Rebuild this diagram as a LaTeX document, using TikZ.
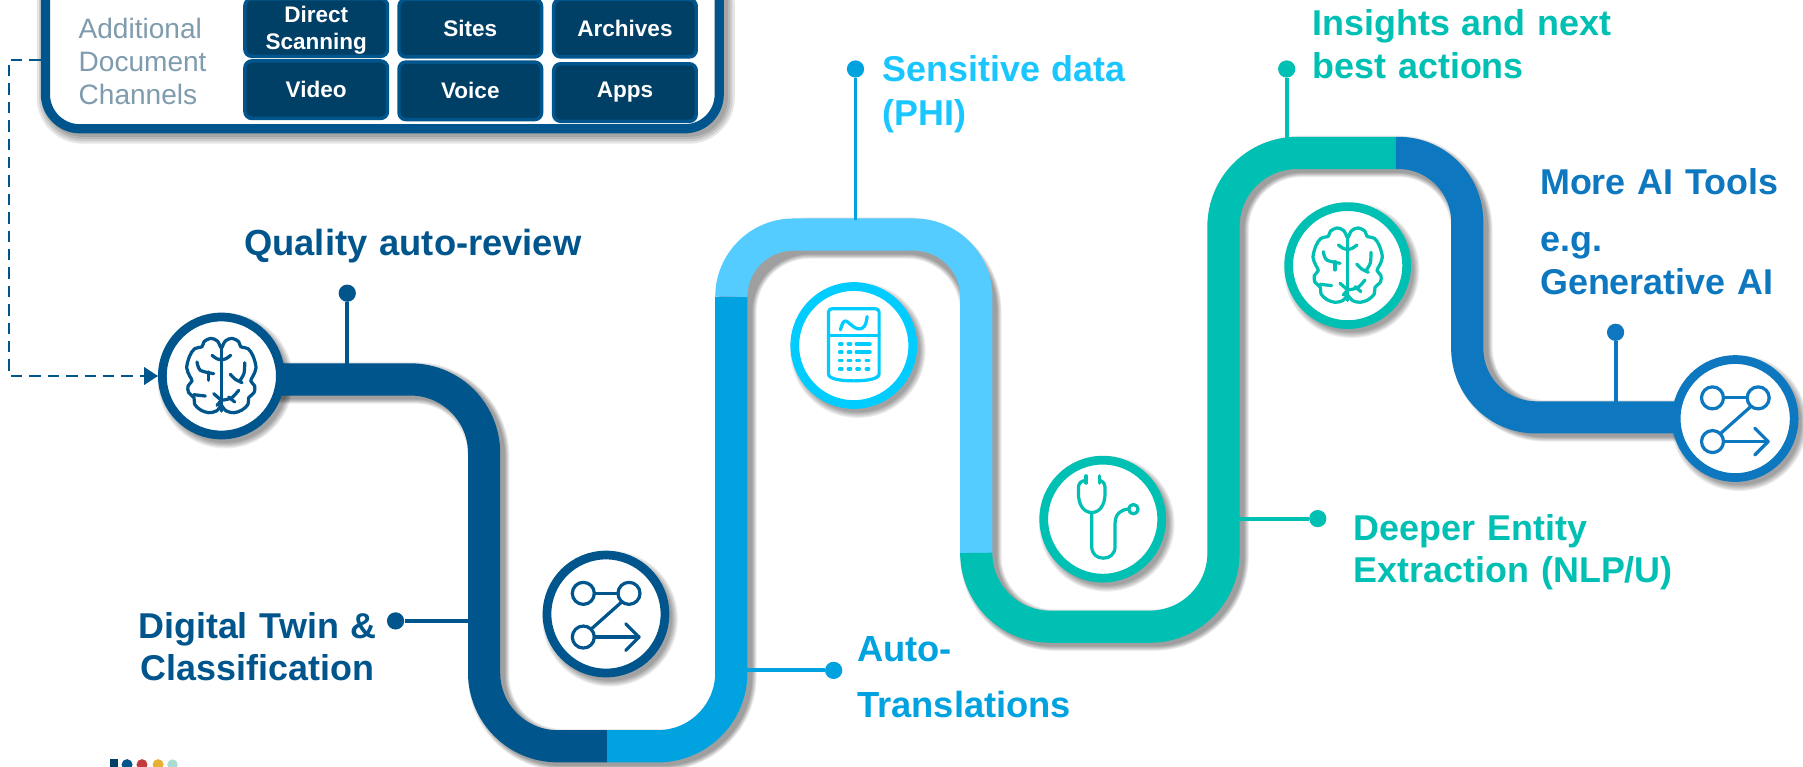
\documentclass[tikz,border=0pt]{standalone}
\usepackage{fontspec}
\setmainfont{Liberation Sans}
\usetikzlibrary{arrows.meta}
\definecolor{cdark}{HTML}{00558C}
\definecolor{ccell}{HTML}{003F66}
\definecolor{cmid}{HTML}{00A3E0}
\definecolor{clight}{HTML}{55CCFF}
\definecolor{csky}{HTML}{00CCFF}
\definecolor{cskytext}{HTML}{19C6FF}
\definecolor{cteal}{HTML}{00BFB3}
\definecolor{cblue}{HTML}{0D78BF}
\definecolor{cgreytext}{HTML}{7F9BAE}
\definecolor{clogored}{HTML}{C23B3F}
\definecolor{clogoyel}{HTML}{E8B030}
\definecolor{clogomint}{HTML}{A8DCD0}
\tikzset{
  x=0.5pt,y=-0.5pt,
  band/.style={line width=14pt,rounded corners=#1},
  band/.default=32pt,
  ring/.style={circle,draw=#1,fill=white,line width=3.8pt,minimum size=51.3pt,inner sep=0pt},
  cell/.style={draw=cdark,fill=ccell,line width=1.5pt,rounded corners=3pt,minimum width=62pt,minimum height=25pt,inner sep=0pt,
    text=white,align=center,font=\fontsize{9.8}{11.5}\selectfont\bfseries},
  lead/.style={line width=1.7pt,draw=#1},
  dotnode/.style={circle,fill=#1,minimum size=7.5pt,inner sep=0pt},
  label/.style={inner sep=0pt,text width=#1,align=left,anchor=base west,font=\fontsize{15.6}{18.5}\selectfont\bfseries},
  label/.default=190pt,
  icon/.style={line width=1.4pt,line cap=round,line join=round,draw=#1,fill=none},
}
\newcommand{\softband}[1]{%
  \foreach \w in {18,17.2,16.4,15.6,14.8,14.2}{%
    \draw[black,opacity=.075,line width=\w pt,rounded corners=32pt,shift={(4,3)}] #1;}}
\newcommand{\softring}[1]{%
  \foreach \w in {59,58,57,56,55,54}{%
    \fill[black,opacity=.07,shift={(3.5,4)}] #1 circle[radius=\w];}}
\newcommand{\brainicon}[3]{%
  \begin{scope}[shift={(#1,#2)},scale=.29,icon=#3]
    \draw (0,-90)--(0,105);
    \foreach \s in {1,-1}{
      \begin{scope}[xscale=\s]
      \draw plot[smooth,tension=.55] coordinates {(2,-85)(12,-105)(32,-113)(52,-103)(58,-88)(80,-82)(95,-60)(104,-25)(95,0)(88,15)(100,30)(98,50)(82,65)(80,85)(62,102)(38,110)(15,105)(2,90)};
      \draw plot[smooth] coordinates {(0,-48)(14,-52)(28,-62)};
      \end{scope}}
    \draw plot[smooth] coordinates {(70,-40)(68,-8)(55,15)};
    \draw plot[smooth] coordinates {(27,-5)(42,10)(62,20)};
    \draw plot[smooth] coordinates {(52,43)(30,66)(0,73)};
    \draw (22,63)--(40,78);
    \draw plot[smooth] coordinates {(-73,-42)(-63,-17)(-23,-7)};
    \draw (-38,-12)--(-38,13);
    \draw (-83,56)--(-48,60);
    \draw (-23,53)--(0,73)--(-13,88);
  \end{scope}}
\newcommand{\flowicon}[3]{%
  \begin{scope}[shift={(#1,#2)},scale=.29,icon=#3]
    \draw (-68,-62) circle[radius=33];
    \draw (69,-62) circle[radius=33];
    \draw (-68,69) circle[radius=33];
    \draw (-35,-62)--(36,-62);
    \draw (47,-36)--(-43,44);
    \draw (-35,69)--(99,69);
    \draw (59,29)--(99,69)--(59,109);
  \end{scope}}
\begin{document}
\begin{tikzpicture}
\path[use as bounding box,clip] (0,0) rectangle (1568,667);
\fill[white] (0,0) rectangle (1568,667);

% soft shadows
\softband{(192,330)--(421,330)--(421,649)--(636,649)--(636,204)--(849,204)--(849,545)--(1064,545)--(1064,133)--(1276,133)--(1276,363)--(1470,363)}
\foreach \w in {10,8,6,4}{\draw[black,opacity=.1,line width=\w pt,rounded corners=15pt,shift={(3,3)}] (39,-30) rectangle (626,112);}
\softring{(192.5,327)}
\softring{(527,534)}
\softring{(742.5,300.5)}
\softring{(959,451.5)}
\softring{(1172,231)}
\softring{(1509,364)}

% serpentine
\draw[band,cdark] (192,330)--(421,330)--(421,649)--(528,649);
\draw[band,cmid] (528,649)--(636,649)--(636,258);
\draw[band=27pt,clight] (636,258)--(636,204)--(849,204)--(849,482);
\draw[band,cteal] (849,482)--(849,545)--(1064,545)--(1064,133)--(1214,133);
\draw[band=30pt,cblue] (1214,133)--(1276,133)--(1276,363)--(1470,363);

% channel box
\node[draw=cdark,fill=white,line width=4pt,rounded corners=15pt,minimum width=293pt,minimum height=71pt,inner sep=0pt] (chan) at (332.5,41) {};
\node[inner sep=0pt,anchor=north west,text=cgreytext,align=left,font=\fontsize{12.2}{14.5}\selectfont] (chanlabel) at (68,15) {Additional\\Document\\Channels};
\node[cell] (c11) at (275,24) {\rule{0pt}{9.3pt}Direct\\Scanning};
\node[cell] (c12) at (409,24.5) {Sites};
\node[cell] (c13) at (543.5,24.5) {Archives};
\node[cell] (c21) at (275,78) {Video};
\node[cell] (c22) at (409,79) {Voice};
\node[cell] (c23) at (543.5,80.5) {Apps};

% rings
\node[ring=cdark] (r1) at (192.5,327) {};
\node[ring=cdark] (r2) at (527,534) {};
\node[ring=csky] (r3) at (742.5,300.5) {};
\node[ring=cteal] (r4) at (959,451.5) {};
\node[ring=cteal] (r5) at (1172,231) {};
\node[ring=cblue] (r6) at (1509,364) {};

% dashed feed
\coordinate (feedA) at (8,52);
\coordinate (feedB) at (8,327);
\draw[cdark,line width=1.1pt,dash pattern=on 5pt off 3pt,-{Triangle[length=6pt,width=7.5pt]}] (chan.west |- feedA)--(feedA)--(feedB)--(r1.west |- feedB);

% callouts
\node[dotnode=cdark] (d1) at (302,255) {};
\coordinate (a1) at (302,318);
\draw[lead=cdark] (d1)--(a1);
\node[dotnode=cdark] (d2) at (344,540) {};
\coordinate (a2) at (409,540);
\draw[lead=cdark] (d2)--(a2);
\node[dotnode=cmid] (d3) at (725,583) {};
\coordinate (a3) at (650,583);
\draw[lead=cmid] (d3)--(a3);
\node[dotnode=cmid] (d4) at (744,60) {};
\coordinate (a4) at (744,191);
\draw[lead=cmid] (d4)--(a4);
\node[dotnode=cteal] (d5) at (1146,451) {};
\coordinate (a5) at (1077,451);
\draw[lead=cteal] (d5)--(a5);
\node[dotnode=cteal] (d6) at (1119,60) {};
\coordinate (a6) at (1119,120);
\draw[lead=cteal] (d6)--(a6);
\node[dotnode=cblue] (d7) at (1405,289) {};
\coordinate (a7) at (1405,350);
\draw[lead=cblue] (d7)--(a7);

% icons
\brainicon{192.5}{327}{cdark}
\flowicon{527}{534}{cdark}
\begin{scope}[shift={(742.5,300.5)},scale=.29,icon=csky]
  \draw (-76,-100) .. controls (-76,-108) and (-70,-110) .. (-66,-110) -- (66,-110) .. controls (70,-110) and (76,-108) .. (76,-100) -- (76,85) .. controls (76,100) and (40,106) .. (0,106) .. controls (-40,106) and (-76,100) .. (-76,85) -- cycle;
  \draw (-76,-30)--(76,-30);
  \draw plot[smooth,tension=.8] coordinates {(-40,-47)(-28,-73)(-8,-62)(12,-50)(32,-58)(40,-87)};
  \foreach \yy in {-5,20}{
    \draw[line width=1.7pt] (-42,\yy)--(-36,\yy) (-16,\yy)--(-10,\yy) (8,\yy)--(48,\yy);}
  \foreach \yy in {45,70}{
    \draw[line width=1.7pt] (-42,\yy)--(-36,\yy) (-16,\yy)--(-10,\yy) (10,\yy)--(16,\yy) (38,\yy)--(44,\yy);}
\end{scope}
\begin{scope}[shift={(959,451.5)},scale=.29,icon=cteal]
  \draw (-50,-130)--(-50,-108);
  \draw (-10,-130)--(-10,-108);
  \draw (-50,-116) .. controls (-64,-116) and (-73,-108) .. (-73,-94) -- (-73,-78) .. controls (-73,-40) and (-55,-20) .. (-33,-20) .. controls (-11,-20) and (7,-40) .. (7,-78) -- (7,-94) .. controls (7,-108) and (-2,-116) .. (-10,-116);
  \draw (-33,-20) -- (-33,82) .. controls (-33,105) and (-17,117) .. (2,117) .. controls (21,117) and (37,105) .. (37,82) -- (37,12) .. controls (37,-15) and (55,-30) .. (78,-30);
  \draw (92,-30) circle[radius=14];
\end{scope}
\brainicon{1172}{231}{cteal}
\flowicon{1509}{364}{cblue}

% labels
\node[label,text=cdark,font=\fontsize{15.8}{18.5}\selectfont\bfseries] (t1) at (212,222) {Quality auto-review};
\node[label=140pt,align=center,anchor=base,text=cdark] (t2) at (224,555) {Digital Twin \&\\Classification};
\node[label,text=cmid,font=\fontsize{15.8}{24.5}\selectfont\bfseries] (t3) at (745,575) {Auto-\\Translations};
\node[label,text=cskytext,font=\fontsize{15.6}{19}\selectfont\bfseries] (t4) at (767,71) {Sensitive data\\(PHI)};
\node[label,text=cteal] (t5) at (1177,470) {Deeper Entity\\Extraction (NLP/U)};
\node[label,text=cteal] (t6) at (1141,31) {Insights and next\\best actions};
\node[label=110pt,text=cblue] (t7) at (1339,169) {More AI Tools\\[6.5pt]e.g.\\Generative AI};

% logo fragment
\fill[ccell] (96,660) rectangle (103,668);
\fill[cdark] (110.5,665) circle[radius=4.8];
\fill[clogored] (123.5,665) circle[radius=4.8];
\fill[clogoyel] (137.5,665) circle[radius=4.8];
\fill[clogomint] (150,665) circle[radius=4.6];
\end{tikzpicture}
\end{document}
